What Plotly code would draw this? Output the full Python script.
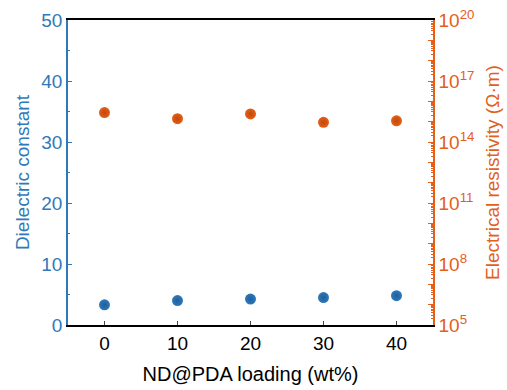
import plotly.graph_objects as go

loading = [0, 10, 20, 30, 40]
dielectric = [3.3, 4.0, 4.25, 4.5, 4.8]
resistivity = [2.8e15, 1.4e15, 2.4e15, 9.3e14, 1.1e15]

x_ticks = [0, 10, 20, 30, 40]
y_ticks = [0, 10, 20, 30, 40, 50]
r_label_exps = [5, 8, 11, 14, 17, 20]
r_decades = list(range(5, 21))

BLUE = "#2f79b9"
ORANGE = "#e2601a"
FONT = "Liberation Sans, Arial, sans-serif"

fig = go.Figure()
fig.add_trace(go.Scatter(
    x=loading, y=dielectric, mode="markers", yaxis="y",
    marker=dict(size=11, color=BLUE, line=dict(width=0),
                gradient=dict(type="radial", color="#1f5f9c")),
    showlegend=False))
fig.add_trace(go.Scatter(
    x=loading, y=resistivity, mode="markers", yaxis="y2",
    marker=dict(size=11, color=ORANGE, line=dict(width=0),
                gradient=dict(type="radial", color="#c2480a")),
    showlegend=False))
fig.add_trace(go.Scatter(x=[None], y=[None], yaxis="y3", showlegend=False, hoverinfo="skip"))

fig.update_layout(
    width=507, height=390,
    margin=dict(l=68, r=74, t=20, b=65),
    paper_bgcolor="white", plot_bgcolor="white",
    font=dict(family=FONT, size=17, color="black"),
    xaxis=dict(
        range=[-5, 45], tickvals=x_ticks, ticks="inside", ticklen=4,
        showline=True, linecolor="black", linewidth=1.5, mirror=True,
        showgrid=False, zeroline=False, automargin=False,
        tickfont=dict(size=19, color="black"),
        title=dict(text="ND@PDA loading (wt%)", font=dict(size=20), standoff=14)),
    yaxis=dict(
        range=[0, 50], tickvals=y_ticks, ticks="inside", ticklen=4,
        tickcolor=BLUE,
        minor=dict(ticks="inside", ticklen=2, dtick=5, tickcolor=BLUE),
        showline=True, linecolor=BLUE, linewidth=1.5,
        showgrid=False, zeroline=False, automargin=False,
        tickfont=dict(size=19, color=BLUE),
        title=dict(text="Dielectric constant", font=dict(size=19, color=BLUE), standoff=7)),
    yaxis2=dict(
        type="log", range=[5, 20], overlaying="y", side="right",
        tickvals=[float(10.0 ** e) for e in r_label_exps],
        ticktext=["10<sup>%d</sup>" % e for e in r_label_exps],
        ticks="", showline=True, linecolor=ORANGE, linewidth=1.5,
        showgrid=False, zeroline=False, automargin=False,
        tickfont=dict(size=19, color=ORANGE),
        title=dict(text="Electrical resistivity (Ω·m)", font=dict(size=19, color=ORANGE), standoff=12)),
    yaxis3=dict(
        type="log", range=[5, 20], overlaying="y", side="right",
        tickvals=[float(10.0 ** e) for e in r_decades], showticklabels=False,
        ticks="inside", ticklen=5, tickcolor=ORANGE,
        minor=dict(ticks="inside", ticklen=2, tickcolor=ORANGE, dtick="D1"),
        showline=False, showgrid=False, zeroline=False, automargin=False),
)

fig.write_html("out.html")
